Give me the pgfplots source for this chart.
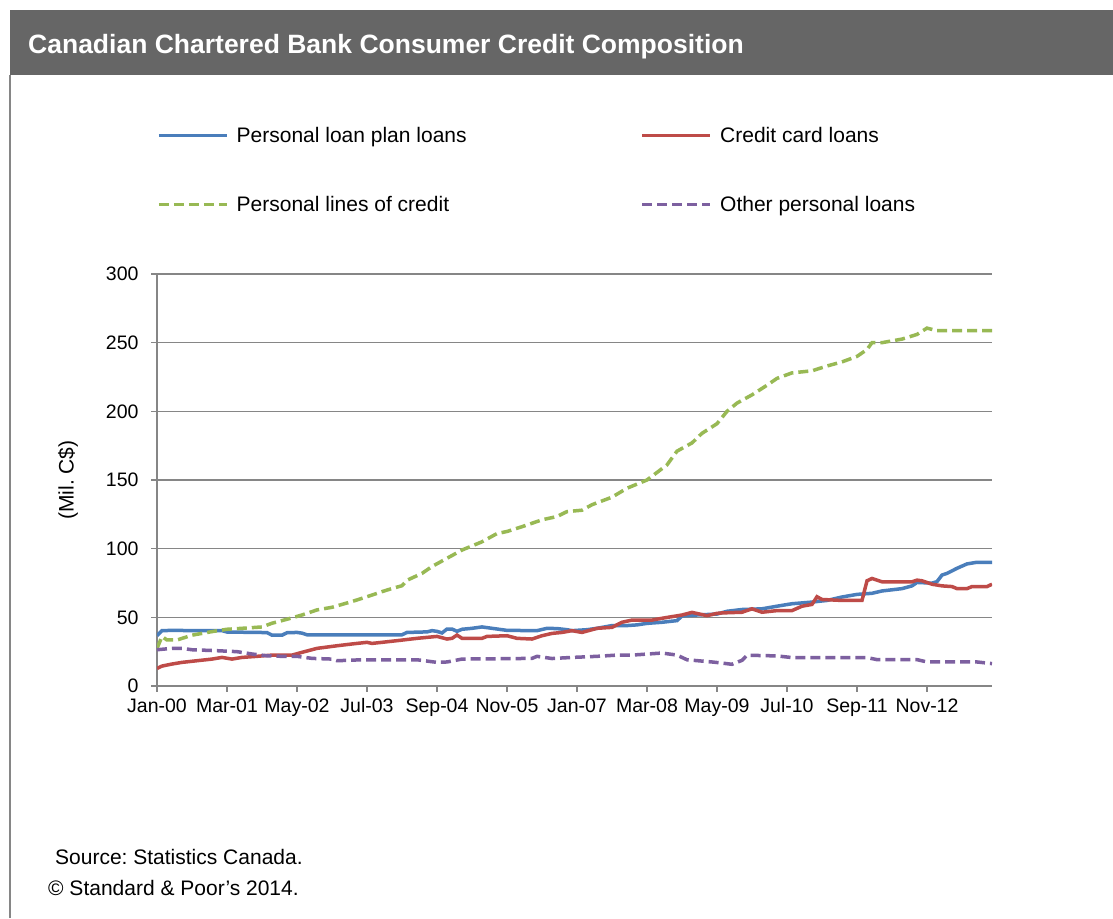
\documentclass[border=0pt]{standalone}
\usepackage{pgfplots}
\pgfplotsset{compat=1.18}
\usepackage{fontspec}
\setmainfont{Liberation Sans}
\frenchspacing
\definecolor{cblue}{HTML}{4A7EBB}
\definecolor{cred}{HTML}{BE4B48}
\definecolor{cgreen}{HTML}{98B954}
\definecolor{cpurple}{HTML}{7D60A0}
\definecolor{cgrid}{HTML}{868686}
\definecolor{ctitle}{HTML}{666666}
\newcommand{\fsz}{\fontsize{21}{25}\selectfont}
\newcommand{\tsz}{\fontsize{19.5}{23}\selectfont}
\begin{document}
\begin{tikzpicture}[x=1pt,y=1pt]
\useasboundingbox (0,0) rectangle (1113,918);
\fill[white] (0,0) rectangle (1113,918);
\fill[ctitle] (10,843) rectangle (1113,908);
\draw[cgrid, line width=1.5pt] (10,0) -- (10,843);
\node[anchor=base west, text=white, inner sep=0pt, font=\fontsize{26.5}{30}\selectfont\bfseries] at (28,864) {Canadian Chartered Bank Consumer Credit Composition};
\node[anchor=base west, inner sep=0pt, font=\fsz] at (55,54) {Source: Statistics Canada.};
\node[anchor=base west, inner sep=0pt, font=\fsz] at (48,23) {\textcopyright{} Standard \& Poor's 2014.};
\begin{axis}[
  at={(157pt,232pt)}, anchor=south west,
  width=835pt, height=412pt, scale only axis,
  xmin=0, xmax=167, ymin=0, ymax=300,
  axis x line*=bottom, axis y line*=left,
  xtick={0,14,...,154},
  xticklabels={Jan-00,Mar-01,May-02,Jul-03,Sep-04,Nov-05,Jan-07,Mar-08,May-09,Jul-10,Sep-11,Nov-12},
  ytick={0,50,...,300},
  ymajorgrids, grid style={cgrid, line width=1.5pt},
  axis line style={cgrid, line width=1.5pt},
  tick style={cgrid, line width=1.5pt},
  tick align=outside, major tick length=6pt,
  tick label style={font=\tsz, text=black},
  /pgf/number format/assume math mode=true,
  yticklabel style={xshift=-9pt},
  xticklabel style={yshift=-3pt},
  ylabel={(Mil. C\$)},
  ylabel style={at={(rel axis cs:0,0.5)}, anchor=center, yshift=89pt, font=\fsz},
  legend columns=2,
  legend cell align=left,
  legend image code/.code={\draw[#1] (0pt,0pt) -- (68pt,0pt);},
  legend style={at={(rel axis cs:0,1)}, anchor=north west, yshift=147pt,
    draw=none, fill=none, inner sep=0pt, font=\fsz,
    nodes={inner sep=0pt},
    row sep=52pt,
    /tikz/every odd column/.append style={column sep=8pt},
    /tikz/every even column/.append style={column sep=174pt}},
]
\addplot[cblue, line width=3.5pt] coordinates {
(0,36.6)(1,40.3)(3,40.5)(8,40.3)(13,40.3)(14,39.3)(20,39)(22,38.9)(23,37)(25,37)(26,38.8)(28,39)(29,38.5)(30,37.3)(40,37.2)(49,37.3)(50,39)(54,39.4)(55,40.3)(56,39.8)(57,38.6)(58,41.5)(59,41.5)(60,39.8)(61,41.3)(63,42)(65,43)(66,42.5)(68,41.5)(70,40.5)(76,40.3)(78,42)(80,41.8)(82,41)(83,40.3)(86,41)(88,42)(91,44)(94,44)(96,44.5)(98,45.6)(101,46.4)(104,47.6)(105,51)(108,51.7)(112,52.4)(114,54.4)(117,55.7)(121,56.2)(124,58.1)(127,59.9)(131,61.1)(134,62.3)(137,64.8)(140,66.7)(143,67.5)(145,69.2)(149,70.9)(151,72.9)(152,75.4)(155,74.9)(156,76)(157,80.8)(158,82)(160,85.7)(162,88.9)(164,90.1)(167,90.1)
};
\addlegendentry{Personal loan plan loans}
\addplot[cred, line width=3.5pt] coordinates {
(0,12.8)(1,14.5)(3,16)(5,17.2)(8,18.4)(11,19.6)(13,20.8)(15,19.6)(17,20.8)(20,21.6)(23,22.5)(27,22.5)(29,24.5)(32,27.4)(36,29.3)(39,30.6)(42,31.8)(43,31)(45,31.8)(48,33)(52,34.7)(56,36.1)(58,34.2)(59,34.7)(60,37.1)(61,34.7)(65,34.7)(66,36.1)(70,36.6)(72,34.7)(75,34.2)(77,36.6)(79,38.3)(81,39)(83,40.3)(85,39)(88,42)(91,42.7)(93,46.4)(95,48)(99,48)(101,49.3)(105,51.7)(107,53.6)(110,51.2)(112,52.9)(113,53.2)(117,53.7)(119,56.2)(121,53.7)(124,54.9)(127,54.9)(129,58.1)(131,59.4)(132,65)(133,63)(137,62.3)(141,62.3)(142,76.6)(143,78.3)(145,75.9)(151,75.9)(152,77.1)(153,76.6)(155,74.1)(157,72.9)(159,72.4)(160,70.9)(162,70.9)(163,72.4)(166,72.4)(167,74.1)
};
\addlegendentry{Credit card loans}
\addplot[cgreen, line width=3.5pt, dash pattern=on 10pt off 5pt] coordinates {
(0,27.4)(1,36)(2,33.5)(4,33.5)(7,37)(11,39.6)(14,41.3)(17,42)(21,43)(23,45.7)(26,48.6)(29,51.7)(32,55.4)(35,57.3)(39,61.5)(42,65)(45,68.7)(47,71)(49,73)(50,77)(53,82)(55,87)(58,93)(61,99)(65,105)(68,111)(70,112.5)(73,116)(77,121)(80,123.4)(82,127)(85,128)(87,132)(91,137.5)(94,144)(98,150)(102,161)(104,171)(107,177)(109,184)(112,191)(114,200)(116,206)(119,212)(122,219)(124,224)(127,228)(131,229.5)(134,233)(137,236)(140,240)(142,245)(143,250)(145,250)(149,252.6)(152,256)(154,260.6)(156,258.7)(167,258.7)
};
\addlegendentry{Personal lines of credit}
\addplot[cpurple, line width=3.5pt, dash pattern=on 10pt off 5pt] coordinates {
(0,26.4)(3,27.4)(5,27.4)(7,26.4)(12,25.7)(16,25)(19,23.3)(22,22)(25,21.6)(28,21.6)(31,20.1)(35,19.6)(36,18.4)(41,19.1)(45,19.1)(52,19.1)(56,17.2)(58,17.5)(61,19.6)(75,20.1)(76,21.6)(79,20)(83,20.8)(88,21.6)(92,22.5)(95,22.5)(101,24)(104,22.5)(106,19.1)(111,17.5)(113,16.7)(115,15.8)(117,18.7)(118,22.4)(124,21.9)(127,20.7)(142,20.7)(144,19.2)(152,19.2)(154,17.5)(164,17.5)(167,16.3)
};
\addlegendentry{Other personal loans}
\end{axis}
\end{tikzpicture}
\end{document}
